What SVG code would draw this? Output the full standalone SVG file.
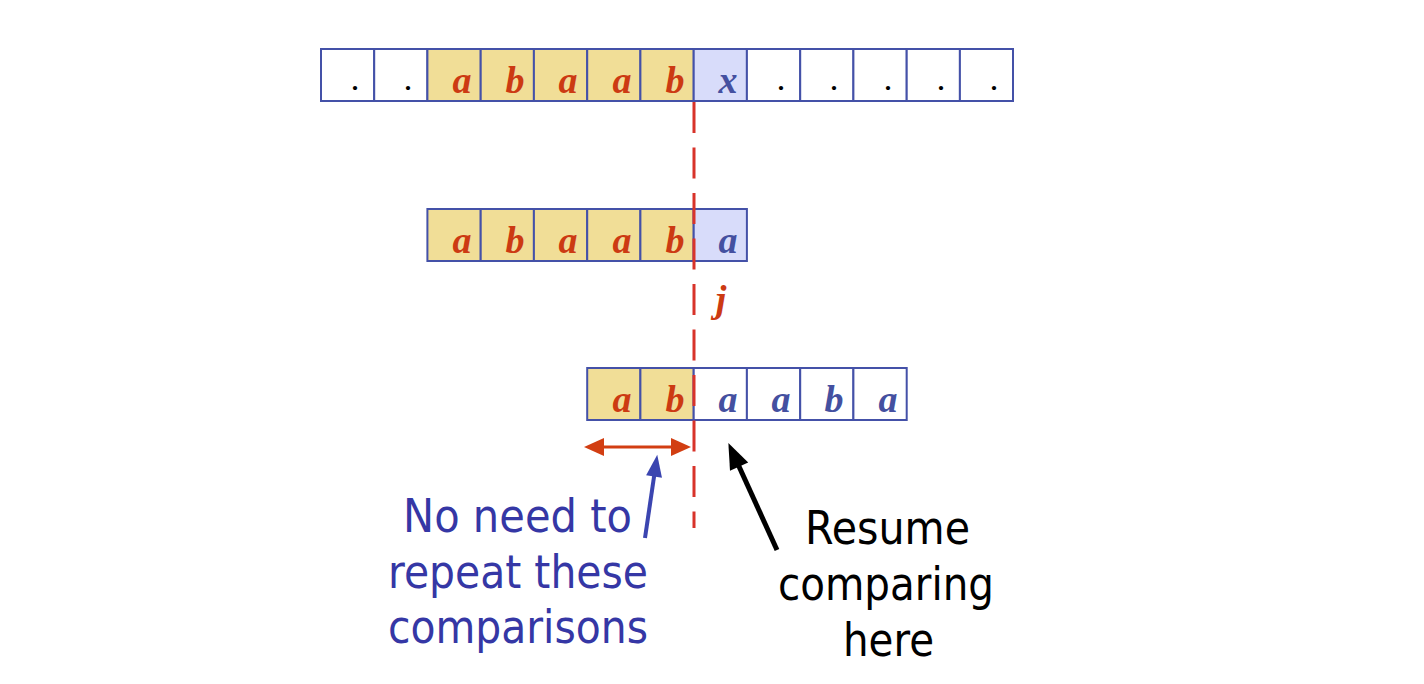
<svg xmlns="http://www.w3.org/2000/svg" width="1424" height="684" viewBox="0 0 1424 684">
<style>
.cell{fill:#ffffff;stroke:#4451A8;stroke-width:2}
.hit{fill:#F1DE97;stroke:#4451A8;stroke-width:2}
.mis{fill:#D8DCFA;stroke:#4451A8;stroke-width:2}
.ch{font-family:"Liberation Serif","Times New Roman",serif;font-weight:bold;font-style:italic;font-size:38px;text-anchor:middle}
.dot{font-family:"Liberation Serif","Times New Roman",serif;font-weight:bold;font-size:26px;text-anchor:middle;fill:#000000}
.r{fill:#CC3A12}
.b{fill:#4450A0}
.lbl{font-family:"DejaVu Sans","Liberation Sans",sans-serif;font-size:47px;text-anchor:middle}
</style>
<defs>
<marker id="hRed" markerUnits="userSpaceOnUse" viewBox="0 -10 22 20" markerWidth="22" markerHeight="20" refX="1" refY="0" orient="auto-start-reverse" overflow="visible"><path d="M0,-9 L20,0 L0,9 z" fill="#D23E12"/></marker>
<marker id="hBlue" markerUnits="userSpaceOnUse" viewBox="0 -10 24 20" markerWidth="24" markerHeight="20" refX="1" refY="0" orient="auto" overflow="visible"><path d="M0,-8 L22,0 L0,8 z" fill="#3B45B0"/></marker>
<marker id="hBlack" markerUnits="userSpaceOnUse" viewBox="0 -12 28 24" markerWidth="28" markerHeight="24" refX="1" refY="0" orient="auto" overflow="visible"><path d="M0,-10 L26,0 L0,10 z" fill="#000000"/></marker>
</defs>

<g id="text-row">
<rect class="cell" x="321" y="49" width="53.2" height="52"/>
<rect class="cell" x="374.2" y="49" width="53.2" height="52"/>
<rect class="hit" x="427.4" y="49" width="53.3" height="52"/>
<rect class="hit" x="480.7" y="49" width="53.2" height="52"/>
<rect class="hit" x="533.9" y="49" width="53.3" height="52"/>
<rect class="hit" x="587.2" y="49" width="53.2" height="52"/>
<rect class="hit" x="640.4" y="49" width="53.3" height="52"/>
<rect class="mis" x="693.7" y="49" width="53.2" height="52"/>
<rect class="cell" x="746.9" y="49" width="53.3" height="52"/>
<rect class="cell" x="800.2" y="49" width="53.2" height="52"/>
<rect class="cell" x="853.4" y="49" width="53.3" height="52"/>
<rect class="cell" x="906.7" y="49" width="53.2" height="52"/>
<rect class="cell" x="959.9" y="49" width="53.1" height="52"/>
<text class="dot" x="355" y="90">.</text>
<text class="dot" x="408" y="90">.</text>
<text class="ch r" x="462" y="93">a</text>
<text class="ch r" x="515" y="93">b</text>
<text class="ch r" x="568" y="93">a</text>
<text class="ch r" x="622" y="93">a</text>
<text class="ch r" x="675" y="93">b</text>
<text class="ch b" x="728" y="93">x</text>
<text class="dot" x="781" y="90">.</text>
<text class="dot" x="834" y="90">.</text>
<text class="dot" x="888" y="90">.</text>
<text class="dot" x="941" y="90">.</text>
<text class="dot" x="994" y="90">.</text>
</g>

<g id="pattern-row1">
<rect class="hit" x="427.4" y="209" width="53.3" height="52"/>
<rect class="hit" x="480.7" y="209" width="53.2" height="52"/>
<rect class="hit" x="533.9" y="209" width="53.3" height="52"/>
<rect class="hit" x="587.2" y="209" width="53.2" height="52"/>
<rect class="hit" x="640.4" y="209" width="53.3" height="52"/>
<rect class="mis" x="693.7" y="209" width="53.2" height="52"/>
<text class="ch r" x="462" y="253">a</text>
<text class="ch r" x="515" y="253">b</text>
<text class="ch r" x="568" y="253">a</text>
<text class="ch r" x="622" y="253">a</text>
<text class="ch r" x="675" y="253">b</text>
<text class="ch b" x="728" y="253">a</text>
</g>

<g id="label-j">
<text class="ch r" x="721" y="312">j</text>
</g>

<g id="pattern-row2">
<rect class="hit" x="587.2" y="368" width="53.2" height="52"/>
<rect class="hit" x="640.4" y="368" width="53.3" height="52"/>
<rect class="cell" x="693.7" y="368" width="53.2" height="52"/>
<rect class="cell" x="746.9" y="368" width="53.3" height="52"/>
<rect class="cell" x="800.2" y="368" width="53.2" height="52"/>
<rect class="cell" x="853.4" y="368" width="53.3" height="52"/>
<text class="ch r" x="622" y="412">a</text>
<text class="ch r" x="675" y="412">b</text>
<text class="ch b" x="728" y="412">a</text>
<text class="ch b" x="781" y="412">a</text>
<text class="ch b" x="834" y="412">b</text>
<text class="ch b" x="888" y="412">a</text>
</g>

<g id="connectors">
<line x1="694" y1="102" x2="694" y2="528" stroke="#D8332A" stroke-width="3" stroke-dasharray="31 14.5"/>
<line x1="603" y1="447" x2="672" y2="447" stroke="#D23E12" stroke-width="3" marker-start="url(#hRed)" marker-end="url(#hRed)"/>
<line x1="645" y1="538" x2="654.2" y2="475.5" stroke="#3B45B0" stroke-width="4" marker-end="url(#hBlue)"/>
<line x1="777" y1="550" x2="738.7" y2="465.7" stroke="#000000" stroke-width="5" marker-end="url(#hBlack)"/>
</g>

<g id="label-left" class="lbl" fill="#3537A5">
<text x="517.5" y="532" textLength="229" lengthAdjust="spacingAndGlyphs">No need to</text>
<text x="518" y="588" textLength="260" lengthAdjust="spacingAndGlyphs">repeat these</text>
<text x="518" y="643" textLength="260" lengthAdjust="spacingAndGlyphs">comparisons</text>
</g>

<g id="label-right" class="lbl" fill="#000000">
<text x="887.5" y="544" textLength="165" lengthAdjust="spacingAndGlyphs">Resume</text>
<text x="886" y="600" textLength="216" lengthAdjust="spacingAndGlyphs">comparing</text>
<text x="888.5" y="656" textLength="91" lengthAdjust="spacingAndGlyphs">here</text>
</g>
</svg>
